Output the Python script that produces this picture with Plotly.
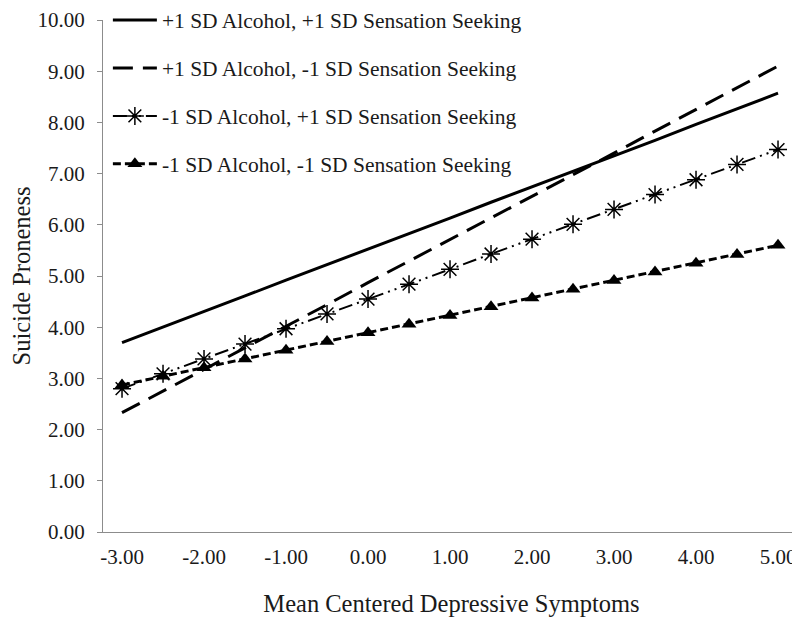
import plotly.graph_objects as go

x_vals = [-3.0, -2.5, -2.0, -1.5, -1.0, -0.5, 0.0, 0.5, 1.0, 1.5, 2.0, 2.5, 3.0, 3.5, 4.0, 4.5, 5.0]

hi_alc_hi_ss = [3.70, 4.00, 4.31, 4.61, 4.92, 5.22, 5.52, 5.83, 6.13, 6.44, 6.74, 7.05, 7.35, 7.65, 7.96, 8.26, 8.57]
hi_alc_lo_ss = [2.33, 2.75, 3.18, 3.60, 4.02, 4.44, 4.87, 5.29, 5.71, 6.14, 6.56, 6.98, 7.40, 7.83, 8.25, 8.67, 9.10]
lo_alc_hi_ss = [2.80, 3.09, 3.38, 3.67, 3.97, 4.26, 4.55, 4.84, 5.13, 5.43, 5.72, 6.01, 6.30, 6.59, 6.88, 7.18, 7.47]
lo_alc_lo_ss = [2.87, 3.04, 3.21, 3.38, 3.55, 3.72, 3.89, 4.06, 4.23, 4.40, 4.57, 4.74, 4.91, 5.08, 5.25, 5.42, 5.60]

series_names = [
    "+1 SD Alcohol, +1 SD Sensation Seeking",
    "+1 SD Alcohol, -1 SD Sensation Seeking",
    "-1 SD Alcohol, +1 SD Sensation Seeking",
    "-1 SD Alcohol, -1 SD Sensation Seeking",
]

x_tick_vals = [-3, -2, -1, 0, 1, 2, 3, 4, 5]
x_tick_text = ["-3.00", "-2.00", "-1.00", "0.00", "1.00", "2.00", "3.00", "4.00", "5.00"]
y_tick_vals = [0, 1, 2, 3, 4, 5, 6, 7, 8, 9, 10]
y_tick_text = ["0.00", "1.00", "2.00", "3.00", "4.00", "5.00", "6.00", "7.00", "8.00", "9.00", "10.00"]

FONT = "Liberation Serif"
AXIS_GRAY = "#8c8c8c"
TXT = "#1a1a1a"

fig = go.Figure()
fig.add_trace(go.Scatter(
    x=x_vals, y=hi_alc_hi_ss, name=series_names[0], mode="lines",
    line=dict(color="black", width=3), legendgroup="a"))
fig.add_trace(go.Scatter(
    x=x_vals, y=hi_alc_lo_ss, name=series_names[1], mode="lines",
    line=dict(color="black", width=3, dash="20px,10px"), legendgroup="b"))
fig.add_trace(go.Scatter(
    x=x_vals, y=lo_alc_hi_ss, name=series_names[2], mode="lines+markers",
    line=dict(color="black", width=2, dash="14px,5px,2px,5px,2px,5px"),
    marker=dict(symbol="asterisk-open", size=15, color="black", line=dict(color="black", width=1.5)),
    legendgroup="c"))
fig.add_trace(go.Scatter(
    x=x_vals, y=lo_alc_lo_ss, name=series_names[3], mode="lines+markers",
    line=dict(color="black", width=3, dash="8px,4px"),
    marker=dict(symbol="triangle-up", size=13, color="black"),
    legendgroup="d"))

fig.update_layout(
    width=792, height=612,
    margin=dict(l=95, r=0, t=12, b=88, autoexpand=False),
    paper_bgcolor="white", plot_bgcolor="white",
    font=dict(family=FONT, size=20, color=TXT),
    showlegend=True,
    legend=dict(
        x=0.007, y=1.04, xanchor="left", yanchor="top",
        bgcolor="rgba(0,0,0,0)", traceorder="grouped", tracegroupgap=17,
        itemwidth=44,
        font=dict(family=FONT, size=21.5, color=TXT),
    ),
    xaxis=dict(
        range=[-3.232, 5.268], tickmode="array", tickvals=x_tick_vals, ticktext=x_tick_text,
        showgrid=False, zeroline=False, showline=True, linecolor=AXIS_GRAY, linewidth=1,
        ticks="", ticklabelstandoff=6, ticklabeloverflow="allow",
        tickfont=dict(family=FONT, size=21, color=TXT), automargin=False,
        title=dict(text="Mean Centered Depressive Symptoms", font=dict(family=FONT, size=24.5, color=TXT), standoff=26),
    ),
    yaxis=dict(
        range=[0, 10], tickmode="array", tickvals=y_tick_vals, ticktext=y_tick_text,
        showgrid=False, zeroline=False, showline=True, linecolor=AXIS_GRAY, linewidth=1,
        ticks="outside", ticklen=5, tickcolor=AXIS_GRAY, ticklabelstandoff=8, ticklabeloverflow="allow",
        tickfont=dict(family=FONT, size=21, color=TXT), automargin=False,
        title=dict(text="Suicide Proneness", font=dict(family=FONT, size=24.5, color=TXT), standoff=10),
    ),
)

fig.write_html("out.html")
